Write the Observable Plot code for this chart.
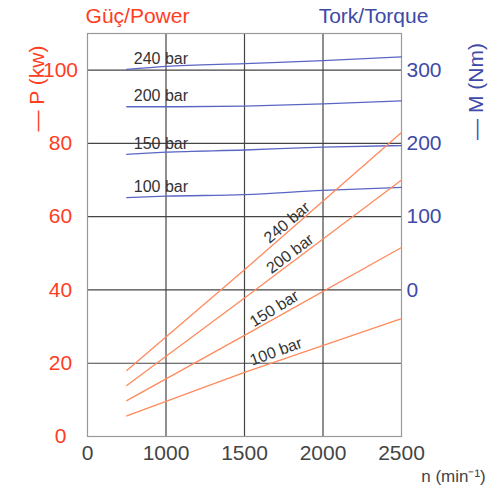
<!DOCTYPE html>
<html><head><meta charset="utf-8">
<script src="https://cdn.jsdelivr.net/npm/d3@7"></script>
<script src="https://cdn.jsdelivr.net/npm/@observablehq/plot@0.6"></script>
<style>body{margin:0;background:#fff}</style>
</head><body><div id="chart"></div>
<script>
const pressures = ["240 bar", "200 bar", "150 bar", "100 bar"];
const powerRpm = [750, 1500, 2500];
const power240 = [18, 45.5, 83];
const power200 = [13.9, 37.8, 70];
const power150 = [9.8, 27.6, 51.6];
const power100 = [5.6, 17.5, 32.2];
const torqueRpm = [750, 1000, 1500, 2000, 2500];
const torque240 = [301, 305, 309, 313, 318];
const torque200 = [250, 250, 251, 254, 258];
const torque150 = [185, 188, 191, 195, 197];
const torque100 = [126, 128, 130, 136, 140];
const xTicks = [500, 1000, 1500, 2000, 2500];
const xTickLabels = ["0", "1000", "1500", "2000", "2500"];
const powerTicks = [0, 20, 40, 60, 80, 100];
const torqueTicks = [0, 100, 200, 300];
const powerLabelRpm = [1770, 1790, 1690, 1700];

// torque axis: 0 Nm at 40 kW, 100 Nm per 20 kW
const toP = m => 40 + m / 5;
const toM = p => (p - 40) * 5;

const powerSeries = [power240, power200, power150, power100];
const torqueSeries = [torque240, torque200, torque150, torque100];
const powerRows = powerSeries.flatMap((s, i) => s.map((v, j) => ({s: pressures[i], n: powerRpm[j], P: v})));
const torqueRows = torqueSeries.flatMap((s, i) => s.map((v, j) => ({s: pressures[i], n: torqueRpm[j], M: v})));
const angles = [-40, -37, -32, -20];
const powerLabels = pressures.map((s, i) => ({s, n: powerLabelRpm[i], P: d3.scaleLinear(powerRpm, powerSeries[i])(powerLabelRpm[i]), a: angles[i]}));
const torqueLabels = pressures.map((s, i) => ({s, n: torqueRpm[0], M: torqueSeries[i][0]}));

const RED = "#ff3d1f", BLUE = "#3d4aa8", ORANGE = "#ff8a5c", LBLUE = "#5a66c4";
const font = "'Liberation Sans', Arial, sans-serif";

const chart = Plot.plot({
  width: 496, height: 493,
  marginLeft: 87, marginRight: 95, marginTop: 33, marginBottom: 57,
  style: {fontFamily: font, background: "#fff", overflow: "visible"},
  x: {domain: [500, 2500]},
  y: {domain: [0, 110]},
  marks: [
    Plot.ruleX([1000, 1500, 2000], {stroke: "#444", strokeWidth: 1.2}),
    Plot.ruleY(powerTicks.filter(d => d > 0), {stroke: "#444", strokeWidth: 1.2}),
    Plot.frame({stroke: "#999", strokeWidth: 1.2}),
    Plot.line(torqueRows, {x: "n", y: d => toP(d.M), z: "s", stroke: LBLUE, strokeWidth: 1.3, curve: "monotone-x"}),
    Plot.line(powerRows, {x: "n", y: "P", z: "s", stroke: ORANGE, strokeWidth: 1.3}),
    Plot.text(torqueLabels, {x: "n", y: d => toP(d.M), text: "s", textAnchor: "start", dx: 7, dy: -11, fontSize: 16, fill: "#333"}),
    Plot.text(powerLabels, {x: "n", y: "P", text: "s", rotate: "a", dy: -10, fontSize: 16, fill: "#333"}),
    Plot.axisX(xTicks, {tickSize: 0, tickPadding: 9, tickFormat: (d) => xTickLabels[xTicks.indexOf(d)], fontSize: 21, fill: "#444", label: null}),
    Plot.axisY(powerTicks, {anchor: "left", tickSize: 0, tickPadding: 27, textAnchor: "middle", fontSize: 21, fill: RED, label: null}),
    Plot.axisY(torqueTicks.map(toP), {anchor: "right", tickSize: 0, tickPadding: 5, tickFormat: d => String(Math.round(toM(d))), fontSize: 21, fill: BLUE, label: null}),
    Plot.text(["Güç/Power"], {frameAnchor: "top-left", dx: 50, dy: -11, lineAnchor: "bottom", textAnchor: "middle", fontSize: 21, fill: RED, text: d => d}),
    Plot.text(["Tork/Torque"], {frameAnchor: "top-right", dx: -28, dy: -11, lineAnchor: "bottom", textAnchor: "middle", fontSize: 21, fill: BLUE, text: d => d}),
    Plot.text(["— P (kw)"], {frameAnchor: "top-left", dx: -58, dy: 55, rotate: -90, textAnchor: "middle", fontSize: 21, fill: RED, text: d => d}),
    Plot.text(["— M (Nm)"], {frameAnchor: "top-right", dx: 67, dy: 58, rotate: -90, textAnchor: "middle", fontSize: 21, fill: BLUE, text: d => d}),
    Plot.text(["n (min⁻¹)"], {frameAnchor: "bottom-right", dx: 52, dy: 45, textAnchor: "middle", fontSize: 17, fill: "#444", text: d => d})
  ]
});
document.getElementById("chart").append(chart);
</script>
</body></html>
